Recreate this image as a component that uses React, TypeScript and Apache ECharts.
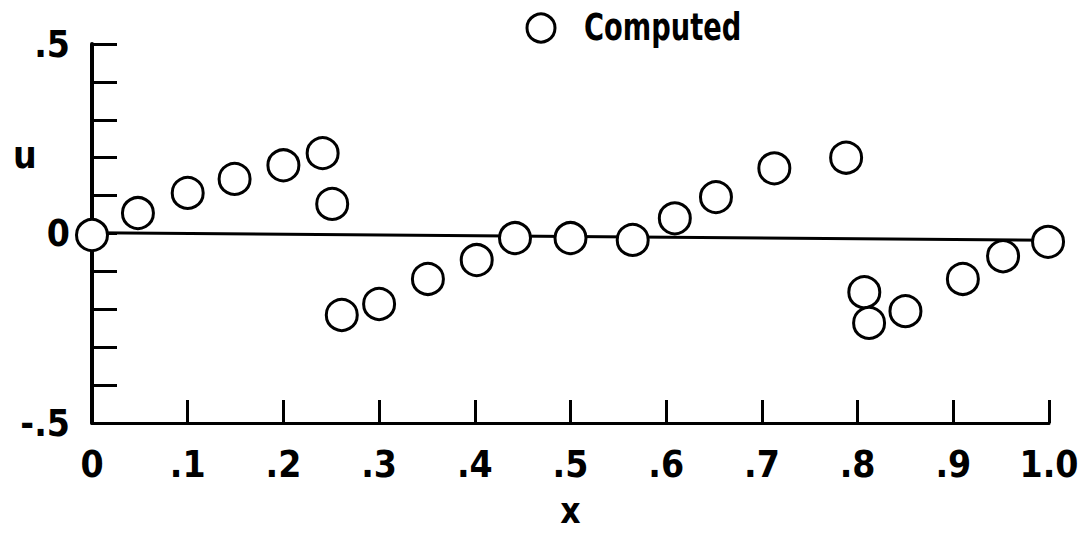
import React, { useEffect, useRef } from "react";
import * as echarts from "echarts";

const xValues = [0, 0.048, 0.1, 0.149, 0.2, 0.241, 0.251, 0.261, 0.3, 0.351, 0.402, 0.442, 0.5, 0.565, 0.609, 0.652, 0.713, 0.788, 0.807, 0.812, 0.85, 0.91, 0.952, 0.999];
const uValues = [-0.004, 0.054, 0.107, 0.144, 0.18, 0.212, 0.078, -0.215, -0.186, -0.12, -0.07, -0.012, -0.012, -0.017, 0.04, 0.096, 0.172, 0.2, -0.155, -0.236, -0.205, -0.12, -0.06, -0.022];
const zeroLineX = [0, 1];
const zeroLineU = [0.002, -0.018];
const xTickLabels = ["0", ".1", ".2", ".3", ".4", ".5", ".6", ".7", ".8", ".9", "1.0"];
const yTickLabels: Record<string, string> = { "-5": "-.5", "0": "0", "5": ".5" };
const seriesName = "Computed";

const FONT = "'DejaVu Sans Condensed', sans-serif";

export default function App() {
  const ref = useRef<HTMLDivElement>(null);
  useEffect(() => {
    if (!ref.current) return;
    const chart = echarts.init(ref.current, undefined, { renderer: "svg" });
    chart.setOption({
      animation: false,
      backgroundColor: "#fff",
      grid: { left: 92, right: 36, top: 44, bottom: 110, containLabel: false, outerBoundsMode: "none" },
      graphic: [
        {
          type: "circle",
          shape: { cx: 541, cy: 28, r: 14 },
          style: { fill: "#fff", stroke: "#000", lineWidth: 3 },
        },
        {
          type: "text",
          x: 584,
          y: 9,
          scaleX: 0.82,
          style: { text: seriesName, font: `bold 37px ${FONT}`, fill: "#000" },
        },
        {
          type: "text",
          left: 13,
          top: 137,
          style: { text: "u", font: `bold 37px ${FONT}`, fill: "#000" },
        },
      ],
      xAxis: {
        type: "value",
        min: 0,
        max: 1,
        interval: 0.1,
        name: "x",
        nameLocation: "middle",
        nameGap: 88,
        nameTextStyle: { fontFamily: FONT, fontSize: 35, fontWeight: "bold", color: "#000", lineHeight: 28, verticalAlign: "middle" },
        axisLine: { show: true, onZero: false, lineStyle: { color: "#000", width: 3 } },
        axisTick: { show: true, inside: true, length: 23, lineStyle: { color: "#000", width: 3 } },
        axisLabel: {
          fontFamily: FONT,
          fontSize: 37,
          fontWeight: "bold",
          color: "#000",
          margin: 23,
          formatter: (v: number) => xTickLabels[Math.round(v * 10)] ?? "",
        },
        splitLine: { show: false },
      },
      yAxis: {
        type: "value",
        min: -0.5,
        max: 0.5,
        interval: 0.1,
        axisLine: { show: true, onZero: false, lineStyle: { color: "#000", width: 4 } },
        axisTick: { show: true, inside: true, length: 25, lineStyle: { color: "#000", width: 3 } },
        axisLabel: {
          fontFamily: FONT,
          fontSize: 37,
          fontWeight: "bold",
          color: "#000",
          margin: 22,
          formatter: (v: number) => yTickLabels[String(Math.round(v * 10))] ?? "",
        },
        splitLine: { show: false },
      },
      series: [
        {
          name: "zero",
          type: "line",
          data: zeroLineX.map((x, i) => [x, zeroLineU[i]]),
          showSymbol: false,
          symbol: "none",
          lineStyle: { color: "#000", width: 3 },
          silent: true,
          z: 1,
        },
        {
          name: seriesName,
          type: "scatter",
          data: xValues.map((x, i) => [x, uValues[i]]),
          symbol: "circle",
          symbolSize: 31,
          itemStyle: { color: "#fff", borderColor: "#000", borderWidth: 3, opacity: 1 },
          z: 3,
        },
      ],
    });
    return () => chart.dispose();
  }, []);
  return <div ref={ref} style={{ width: 1085, height: 533, position: "absolute", left: 0, top: 0 }} />;
}
